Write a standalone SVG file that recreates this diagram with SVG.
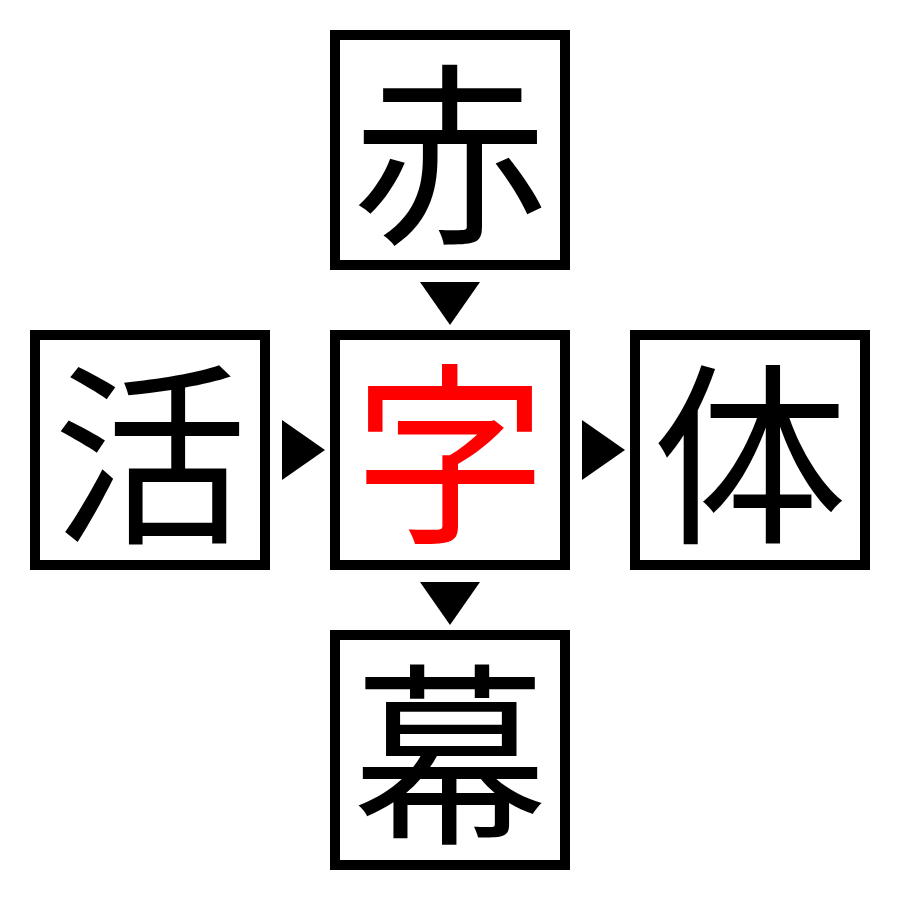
<svg xmlns="http://www.w3.org/2000/svg" width="900" height="900" viewBox="0 0 900 900">
<style>
.box{fill:#fff;stroke:#000;stroke-width:10}
.ch{font-family:"Noto Sans CJK JP","Noto Sans CJK SC",sans-serif;font-size:195px;text-anchor:middle;dominant-baseline:central;fill:#000}
.red{fill:#ff0000}
.arr{fill:#000}
</style>
<rect width="900" height="900" fill="#fff"/>
<g id="node-aka"><rect class="box" x="335" y="35" width="230" height="230"/><text class="ch" x="450" y="144">赤</text></g>
<g id="node-katsu"><rect class="box" x="35" y="335" width="230" height="230"/><text class="ch" x="150" y="444">活</text></g>
<g id="node-ji"><rect class="box" x="335" y="335" width="230" height="230"/><text class="ch red" x="450" y="444">字</text></g>
<g id="node-tai"><rect class="box" x="635" y="335" width="230" height="230"/><text class="ch" x="750" y="444">体</text></g>
<g id="node-maku"><rect class="box" x="335" y="635" width="230" height="230"/><text class="ch" x="450" y="744">幕</text></g>
<g id="connectors">
<polygon class="arr" points="420,282 480,282 450,325"/>
<polygon class="arr" points="282,420 282,480 325,450"/>
<polygon class="arr" points="582,420 582,480 625,450"/>
<polygon class="arr" points="420,582 480,582 450,625"/>
</g>
</svg>
